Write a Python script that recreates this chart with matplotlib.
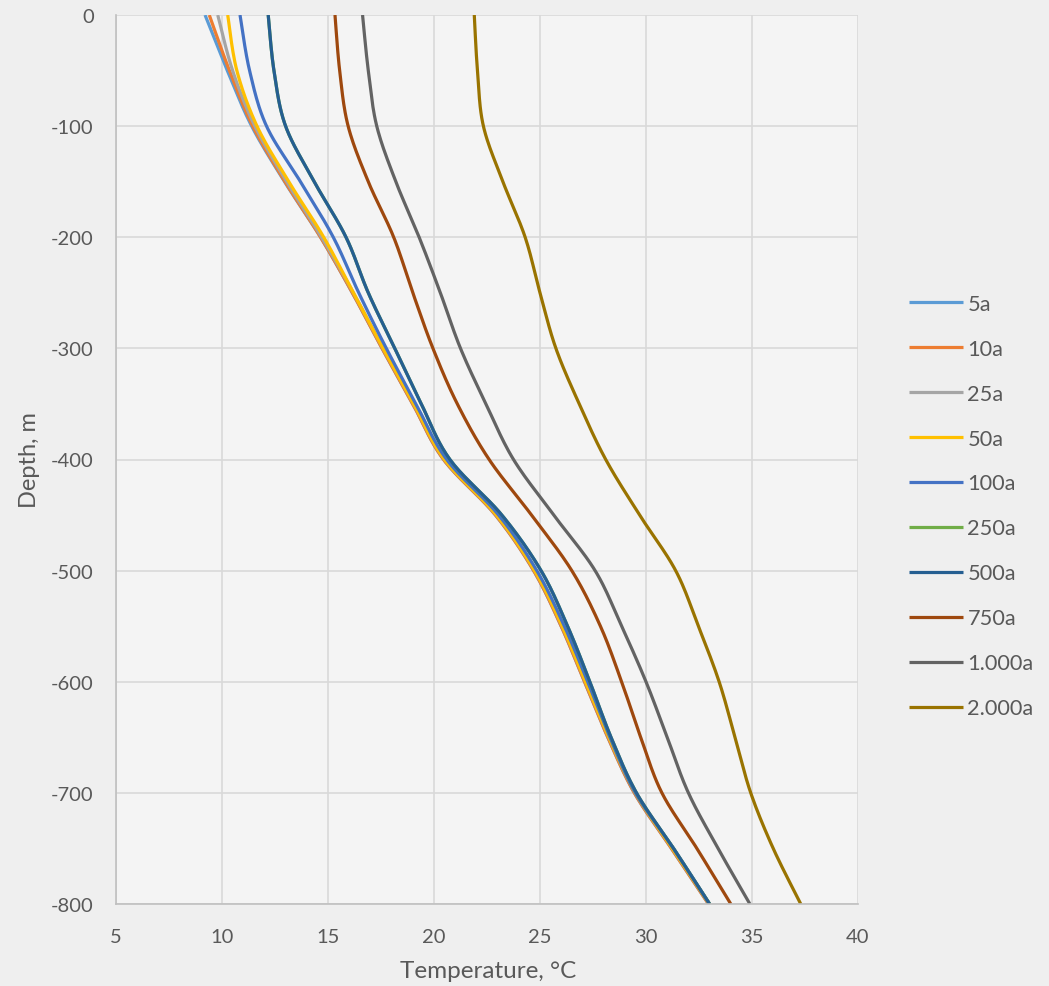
import numpy as np
import matplotlib
matplotlib.use("Agg")
import matplotlib.pyplot as plt

depth = [0, -50, -100, -150, -200, -250, -300, -350, -400, -450, -500, -550, -600, -650, -700, -750, -800]

t_5a = [9.2, 10.25, 11.4, 12.95, 14.65, 16.15, 17.55, 19.0, 20.45, 22.9, 24.7, 26.0, 27.1, 28.2, 29.45, 31.2, 32.95]
t_10a = [9.4, 10.35, 11.45, 12.97, 14.65, 16.15, 17.55, 19.0, 20.45, 22.9, 24.7, 26.0, 27.1, 28.2, 29.45, 31.2, 32.95]
t_25a = [9.8, 10.5, 11.55, 13.05, 14.7, 16.2, 17.6, 19.05, 20.5, 22.95, 24.75, 26.05, 27.15, 28.25, 29.5, 31.25, 33.0]
t_50a = [10.27, 10.7, 11.65, 13.15, 14.8, 16.2, 17.6, 19.05, 20.5, 22.95, 24.75, 26.05, 27.15, 28.25, 29.5, 31.25, 33.0]
t_100a = [10.85, 11.3, 12.1, 13.7, 15.25, 16.45, 17.75, 19.15, 20.6, 23.05, 24.85, 26.15, 27.25, 28.3, 29.5, 31.3, 33.0]
t_250a = [12.18, 12.45, 13.0, 14.35, 15.85, 16.9, 18.15, 19.4, 20.75, 23.2, 25.05, 26.3, 27.35, 28.35, 29.55, 31.3, 33.0]
t_500a = [12.18, 12.45, 13.0, 14.35, 15.85, 16.9, 18.15, 19.4, 20.75, 23.2, 25.05, 26.3, 27.35, 28.35, 29.55, 31.3, 33.0]
t_750a = [15.33, 15.55, 15.95, 16.9, 18.1, 19.0, 19.95, 21.1, 22.6, 24.6, 26.5, 27.85, 28.85, 29.75, 30.75, 32.4, 34.0]
t_1000a = [16.63, 16.9, 17.3, 18.2, 19.3, 20.3, 21.25, 22.45, 23.75, 25.65, 27.6, 28.85, 30.0, 31.0, 32.0, 33.4, 34.9]
t_2000a = [21.9, 22.05, 22.33, 23.25, 24.3, 25.0, 25.75, 26.85, 28.1, 29.7, 31.4, 32.47, 33.45, 34.2, 34.94, 36.0, 37.3]

labels = ["5a", "10a", "25a", "50a", "100a", "250a", "500a", "750a", "1.000a", "2.000a"]
series = [t_5a, t_10a, t_25a, t_50a, t_100a, t_250a, t_500a, t_750a, t_1000a, t_2000a]
colors = ["#5B9BD5", "#ED7D31", "#A5A5A5", "#FFC000", "#4472C4", "#70AD47",
          "#255E91", "#9E480E", "#636363", "#997300"]

x_ticks = [5, 10, 15, 20, 25, 30, 35, 40]
y_ticks = [0, -100, -200, -300, -400, -500, -600, -700, -800]


def smooth(xs, ys, n=20):
    """Excel-like smoothed line (Catmull-Rom / Bezier) through the data points."""
    P = np.column_stack([xs, ys]).astype(float)
    m = len(P)
    out = [P[0]]
    t = np.linspace(0, 1, n + 1)[1:]
    for i in range(m - 1):
        p0 = P[i - 1] if i > 0 else P[i]
        p1 = P[i]
        p2 = P[i + 1]
        p3 = P[i + 2] if i + 2 < m else P[i + 1]
        c1 = p1 + (p2 - p0) / 6.0
        c2 = p2 - (p3 - p1) / 6.0
        for tt in t:
            b = ((1 - tt) ** 3) * p1 + 3 * ((1 - tt) ** 2) * tt * c1 + 3 * (1 - tt) * tt ** 2 * c2 + tt ** 3 * p2
            out.append(b)
    out = np.array(out)
    return out[:, 0], out[:, 1]


plt.rcParams['font.family'] = ['Lato', 'DejaVu Sans']
plt.rcParams['axes.unicode_minus'] = False
text_color = "#595959"

fig = plt.figure(figsize=(10.49, 9.87), dpi=100)
fig.patch.set_facecolor("#efefef")
ax = fig.add_axes([116 / 1049, 1 - 905 / 987, (858 - 116) / 1049, (905 - 16) / 987])
ax.set_facecolor("#f4f4f4")

handles = []
for vals, lab, col in zip(series, labels, colors):
    sx, sy = smooth(vals, depth)
    h, = ax.plot(sx, sy, color=col, lw=2.3, label=lab, solid_capstyle="butt")
    handles.append(h)

ax.set_xlim(5, 40)
ax.set_ylim(-800, 0)
ax.set_xticks(x_ticks)
ax.set_yticks(y_ticks)
ax.grid(True, color="#d9d9d9", lw=1.2)
ax.set_axisbelow(True)
for s in ["top", "right"]:
    ax.spines[s].set_visible(False)
for s in ["left", "bottom"]:
    ax.spines[s].set_color("#bfbfbf")
    ax.spines[s].set_linewidth(1.2)
ax.tick_params(length=0, labelsize=14.5, labelcolor=text_color)
ax.tick_params(axis="x", pad=17)
ax.tick_params(axis="y", pad=16)
ax.set_xlabel("Temperature, °C", fontsize=17.5, color=text_color)
ax.set_ylabel("Depth, m", fontsize=17, color=text_color)
ax.xaxis.set_label_coords((488 - 116) / 742, (905 - 961) / 889)
ax.yaxis.set_label_coords((40 - 116) / 742, 0.5)

leg = fig.legend(handles=handles, labels=labels, loc="upper left",
                 bbox_to_anchor=(889 / 1049, 1 - 275 / 987), frameon=False,
                 fontsize=15.7, labelcolor=text_color, handlelength=2.5,
                 handletextpad=0.2, labelspacing=1.145)

fig.savefig("out.png", dpi=100, facecolor=fig.get_facecolor())
